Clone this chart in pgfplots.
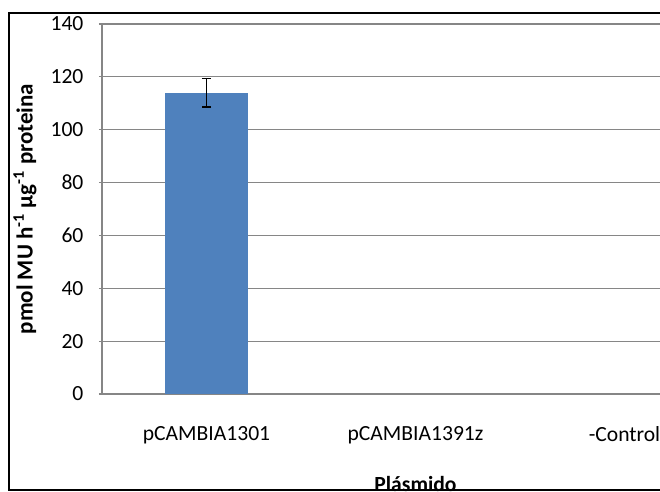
\documentclass[border=0pt]{standalone}
\usepackage{pgfplots}
\pgfplotsset{compat=1.18}
\usepackage{fontspec}
\setmainfont{Carlito}
\definecolor{barblue}{HTML}{4F81BD}
\definecolor{gridgray}{HTML}{868686}
\begin{document}
\fontsize{10.8}{13}\selectfont
\begin{tikzpicture}
\useasboundingbox (0,0) rectangle (330pt,246pt);
\begin{scope}
\clip (0,0) rectangle (330pt,246pt);
\draw[black, line width=1.1pt] (4.5pt,1pt) rectangle (345pt,239.5pt);
\begin{axis}[
    at={(51pt,49pt)}, anchor=south west,
    scale only axis,
    width=313.5pt, height=185pt,
    xmin=-0.5, xmax=2.5,
    ymin=0, ymax=140,
    ytick={0,20,40,60,80,100,120,140},
    xtick={0,1,2},
    xticklabels={pCAMBIA1301,pCAMBIA1391z,-Control},
    x tick style={draw=none},
    extra x ticks={-0.5,0.5,1.5,2.5},
    extra x tick labels={},
    extra x tick style={major tick length=3.5pt, tick align=outside, grid=none, tick style={draw=gridgray, line width=0.6pt}},
    y tick style={draw=gridgray, line width=0.6pt},
    major tick length=3pt,
    tick align=outside,
    axis lines=left,
    axis line style={-, draw=gridgray, line width=0.6pt},
    ymajorgrids=true,
    grid style={gridgray, line width=0.6pt},
    /pgf/number format/assume math mode=true,
    tick label style={font=\fontsize{10.8}{13}\selectfont},
    x tick label style={yshift=-11pt},
    y tick label style={xshift=-4pt},
    xlabel={\bfseries Plásmido},
    xlabel style={font=\fontsize{10.8}{13}\selectfont, at={(axis description cs:0.5,0)}, anchor=center, yshift=-45pt},
    ylabel={\bfseries pmol MU h\textsuperscript{-1} µg\textsuperscript{-1} proteina},
    ylabel style={font=\fontsize{11.5}{13}\selectfont, at={(axis description cs:-0.1228,0.5)}, anchor=center},
    clip=false,
]
\addplot[
    ybar, bar width=41.5pt, fill=barblue, draw=none,
    error bars/.cd, y dir=both, y explicit,
    error bar style={black, line width=0.8pt},
    error mark options={black, line width=0.8pt, mark size=2.3pt, rotate=90},
] coordinates {(0,114) +- (0,5.3)};
\end{axis}
\end{scope}
\end{tikzpicture}
\end{document}
